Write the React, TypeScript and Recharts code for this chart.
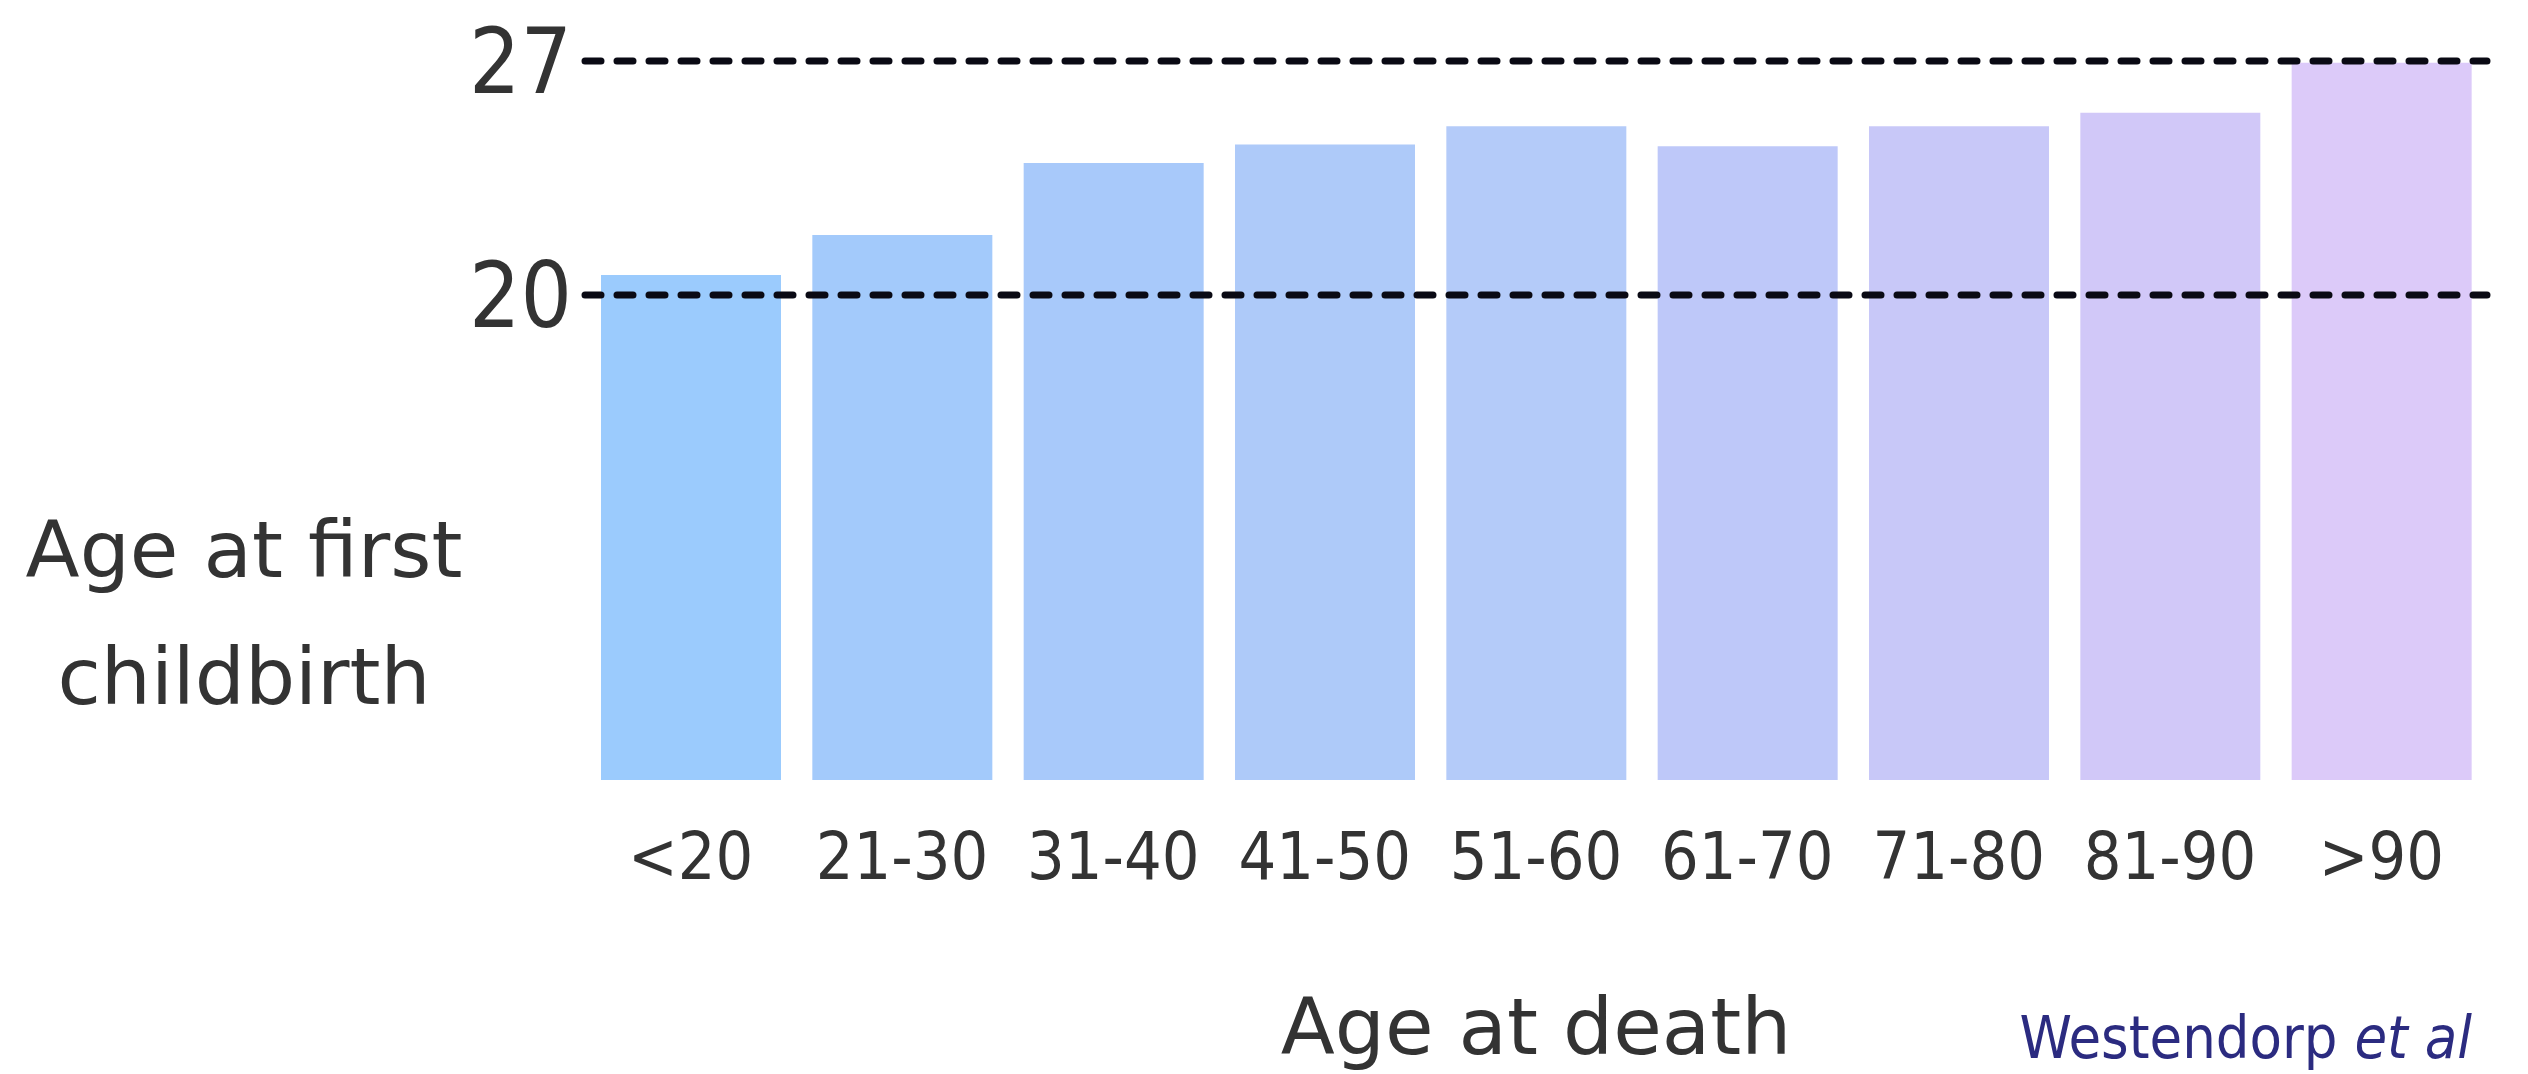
import React from 'react';
import { BarChart, Bar, XAxis, YAxis, Cell, ReferenceLine } from 'recharts';

// 每個死亡年齡組的首次生育年齡
const ageGroups = ['<20', '21-30', '31-40', '41-50', '51-60', '61-70', '71-80', '81-90', '>90'];
const ageAtFirstChildbirth = [20.6, 21.8, 23.95, 24.5, 25.05, 24.45, 25.05, 25.45, 26.95];
const barColors = ['#9bcbfd', '#a3cafb', '#a8c9fa', '#aecaf9', '#b4cbf9', '#bec8f9', '#c8c8f8', '#d1c8f8', '#dccaf9'];
const yTicks = [20, 27];
const yDomain = [5.5, 27];

const data = ageGroups.map((group, i) => ({ group, value: ageAtFirstChildbirth[i] }));

const condensed = "'DejaVu Sans Condensed', 'DejaVu Sans', sans-serif";
const regular = "'DejaVu Sans', sans-serif";

const YTitle = (props: any) => {
  const { viewBox } = props;
  const cx = viewBox.x + 244;
  return (
    <text textAnchor="middle" fill="#333" style={{ fontFamily: regular, fontSize: 79 }}>
      <tspan x={cx} y={577}>Age at first</tspan>
      <tspan x={cx} y={704}>childbirth</tspan>
    </text>
  );
};

const XTitle = (props: any) => {
  const { viewBox } = props;
  return (
    <g>
      <text x={viewBox.x + viewBox.width / 2} y={1054} textAnchor="middle" fill="#333"
        style={{ fontFamily: regular, fontSize: 79 }}>
        Age at death
      </text>
      <text x={2472} y={1058} textAnchor="end" fill="#2b2b80"
        style={{ fontFamily: condensed, fontStretch: 'condensed', fontSize: 59 }}>
        Westendorp <tspan fontStyle="italic">et al</tspan>
      </text>
    </g>
  );
};

const App: React.FC = () => {
  return (
    <div style={{ position: 'absolute', left: 0, top: 0, background: '#fff' }}>
      <BarChart
        width={2528}
        height={1074}
        data={data}
        margin={{ top: 61, right: 41, bottom: 0, left: 0 }}
      >
        <XAxis
          dataKey="group"
          height={294}
          axisLine={false}
          tickLine={false}
          tickSize={0}
          tickMargin={52}
          interval={0}
          tick={{ fill: '#333', fontSize: 66, fontFamily: condensed, style: { fontStretch: 'condensed' } }}
          label={<XTitle />}
        />
        <YAxis
          width={585}
          domain={yDomain}
          ticks={yTicks}
          allowDataOverflow
          axisLine={false}
          tickLine={false}
          tickSize={0}
          tickMargin={13}
          tick={{ fill: '#333', fontSize: 90, fontFamily: condensed, style: { fontStretch: 'condensed' } }}
          label={<YTitle />}
        />
        <Bar dataKey="value" barSize={180} isAnimationActive={false}>
          {data.map((d, i) => (
            <Cell key={d.group} fill={barColors[i]} />
          ))}
        </Bar>
        {yTicks.map((t) => (
          <ReferenceLine key={t} y={t} stroke="#0a0a14" strokeWidth={7} strokeDasharray="16 16" strokeLinecap="round" />
        ))}
      </BarChart>
    </div>
  );
};

export default App;
